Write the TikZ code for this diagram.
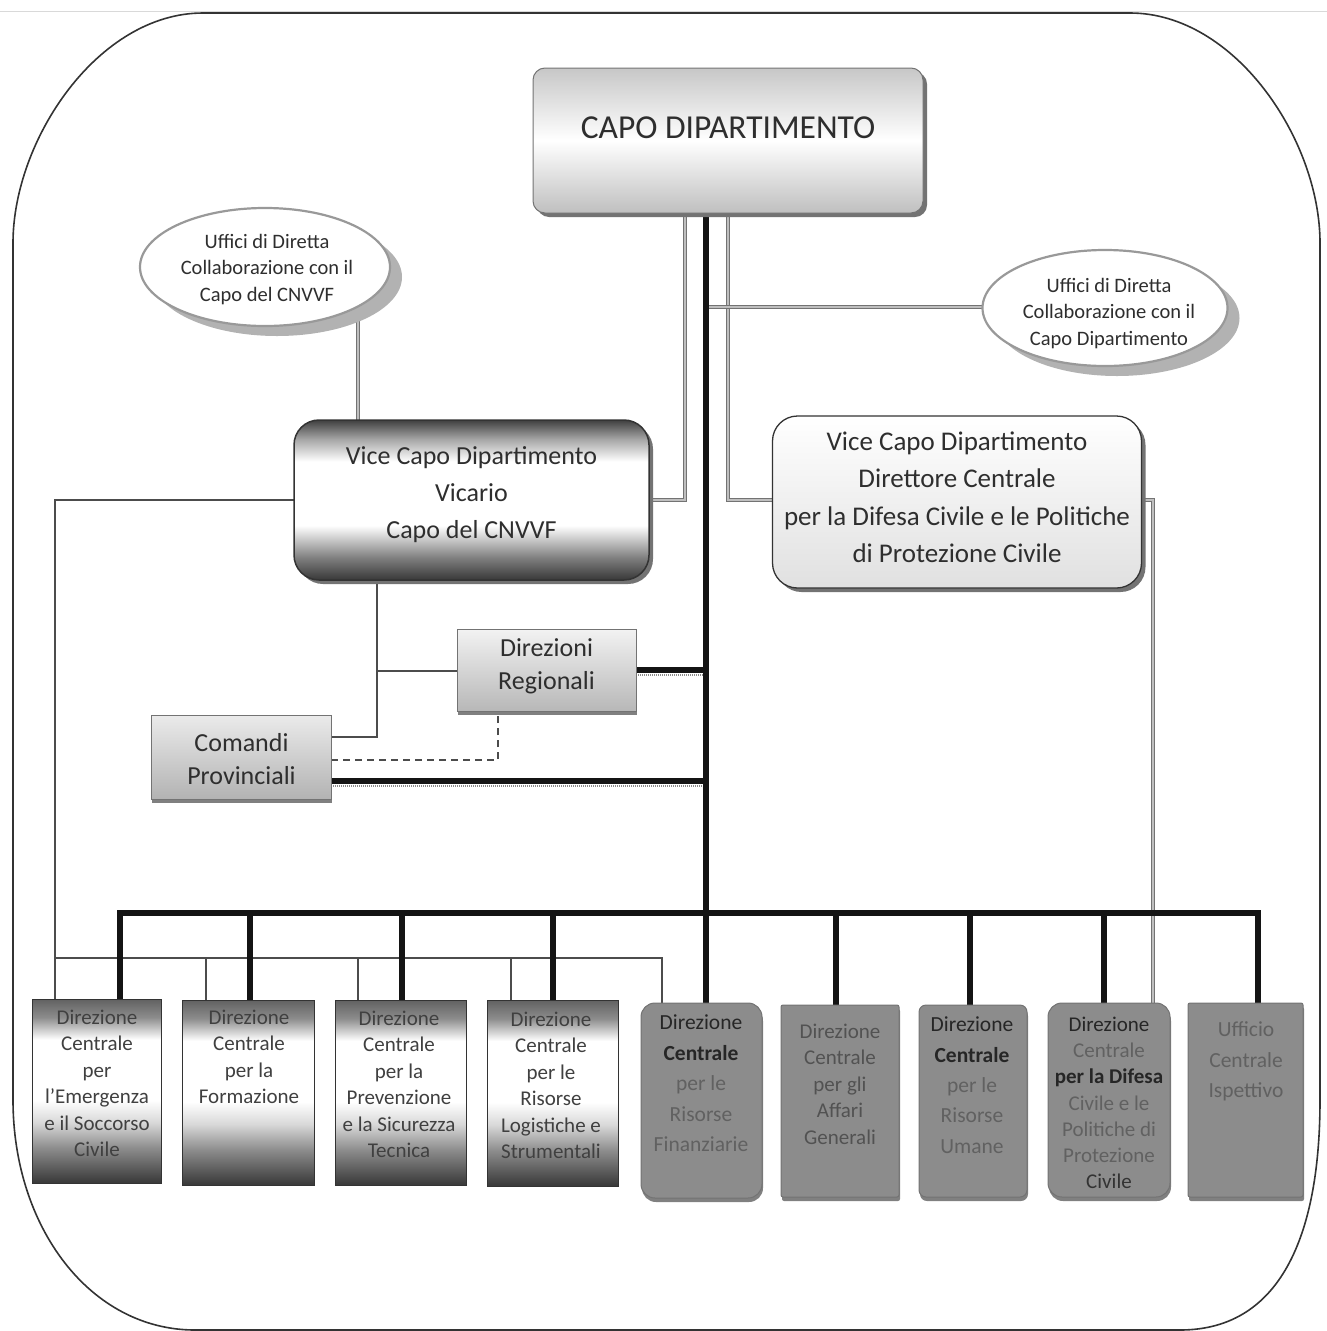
\documentclass[tikz,border=0pt]{standalone}
\usepackage{fontspec}
\setmainfont{Carlito}
\usetikzlibrary{shapes.geometric,shadows,backgrounds,calc}
\newcommand\myfs[2]{\fontsize{#1}{#2}\selectfont}
\pgfdeclareverticalshading{vicshade}{100bp}{color(0bp)=(black!78); color(25bp)=(black!78); color(32bp)=(black!50); color(42bp)=(white); color(62bp)=(white); color(69bp)=(black!35); color(75bp)=(black!75); color(100bp)=(black!75)}
\pgfdeclareverticalshading{dcshade}{100bp}{color(0bp)=(black!78); color(25bp)=(black!78); color(34.5bp)=(black!45); color(41.5bp)=(black!15); color(47.5bp)=(white); color(64bp)=(white); color(70bp)=(black!45); color(75bp)=(black!62); color(100bp)=(black!62)}
\tikzset{
  frame/.style={draw=black!80, line width=1.6pt},
  conn/.style={draw=black!70, line width=1.2pt},
  gconn/.style={draw=black!55, line width=0.9pt, double=black!25, double distance=1.4pt},
  thk/.style={draw=black!92, line width=5.5pt},
  dotsh/.style={draw=black!45, line width=2.5pt, dash pattern=on 1pt off 1pt},
  dsh/.style={draw=black!70, line width=1.2pt, dash pattern=on 7pt off 5pt},
  shd/.style={drop shadow={shadow xshift=4pt, shadow yshift=-4pt, fill=black!55, opacity=1}},
  bshd/.style={drop shadow={shadow xshift=1pt, shadow yshift=-4pt, fill=black!50, opacity=1}},
  ell/.style={ellipse, draw=black!40, line width=2.2pt, fill=white, drop shadow={shadow xshift=12pt, shadow yshift=-10pt, fill=black!30, opacity=1}},
  txt/.style={align=center, text=black!82},
  darkbox/.style={rectangle, draw=black!80, line width=1pt, shading=dcshade},
  graybox/.style={rectangle, draw=black!55, line width=1pt, fill=black!45, bshd},
}
\begin{document}
\begin{tikzpicture}[x=1pt,y=-1pt, every node/.style={inner sep=0pt, outer sep=0pt}]
\useasboundingbox (0,0) rectangle (1327,1331);

% ---------- boxes ----------
\node[rectangle, rounded corners=12pt, minimum width=390pt, minimum height=145pt,
      draw=black!55, line width=1pt, top color=black!22, bottom color=black!25, middle color=white, shd] (capo) at (728,140.5) {};
\node[txt, font=\myfs{33.5}{40}] (capoT) at (728,128) {CAPO DIPARTIMENTO};

\node[ell, minimum width=250pt, minimum height=118pt] (uffL) at (265,267) {};
\node[txt, anchor=north, font=\myfs{20.5}{26.5}] (uffLT) at (267,234) {Uffici di Diretta\\Collaborazione con il\\Capo del CNVVF};

\node[ell, minimum width=245pt, minimum height=116pt] (uffR) at (1105,308) {};
\node[txt, anchor=north, font=\myfs{20.5}{26.5}] (uffRT) at (1109,278) {Uffici di Diretta\\Collaborazione con il\\Capo Dipartimento};

\node[rectangle, rounded corners=25pt, minimum width=355pt, minimum height=160pt,
      draw=black!80, line width=1.5pt, shading=vicshade, shd] (vic) at (471.5,500) {};
\node[txt, anchor=north, font=\myfs{26}{37}] (vicT) at (471.5,446.5) {Vice Capo Dipartimento\\Vicario\\Capo del CNVVF};

\node[rectangle, rounded corners=25pt, minimum width=369pt, minimum height=172pt,
      draw=black!80, line width=1.3pt, top color=white, bottom color=black!12, shd] (vdc) at (957,502) {};
\node[txt, anchor=north, font=\myfs{27}{37.3}] (vdcT) at (957,432) {Vice Capo Dipartimento\\Direttore Centrale\\per la Difesa Civile e le Politiche\\di Protezione Civile};

\node[rectangle, minimum width=179pt, minimum height=82pt, draw=black!55, line width=1pt,
      top color=black!5, bottom color=black!28, bshd] (dirreg) at (546.5,670) {};
\node[txt, anchor=north, font=\myfs{26}{33}] (dirregT) at (546.5,638.5) {Direzioni\\Regionali};

\node[rectangle, minimum width=180pt, minimum height=84pt, draw=black!55, line width=1pt,
      top color=black!8, bottom color=black!30, bshd] (comprov) at (241,757) {};
\node[txt, anchor=north, font=\myfs{26}{33}] (comprovT) at (241.5,733.5) {Comandi\\Provinciali};

% bottom row
\node[darkbox, minimum width=129pt, minimum height=184pt] (b1) at (96.5,1091) {};
\node[darkbox, minimum width=132pt, minimum height=185pt] (b2) at (248,1092.5) {};
\node[darkbox, minimum width=131pt, minimum height=185pt] (b3) at (400.5,1092.5) {};
\node[darkbox, minimum width=131pt, minimum height=186pt] (b4) at (552.5,1093) {};
\node[graybox, rounded corners=14pt, minimum width=121pt, minimum height=195pt] (b5) at (701.5,1100.5) {};
\node[graybox, rounded corners=2pt, minimum width=118pt, minimum height=192pt] (b6) at (840,1101) {};
\node[graybox, rounded corners=7pt, minimum width=108pt, minimum height=192pt] (b7) at (973,1101) {};
\node[graybox, rounded corners=14pt, minimum width=122pt, minimum height=194pt] (b8) at (1109,1100) {};
\node[graybox, rounded corners=2pt, minimum width=115pt, minimum height=194pt] (b9) at (1245.5,1100) {};

\node[txt, anchor=north, text=black!75, font=\myfs{21}{26.4}] (t1) at (97,1010) {Direzione\\Centrale\\per\\l’Emergenza\\e il Soccorso\\Civile};
\node[txt, anchor=north, text=black!75, font=\myfs{21}{26.4}] (t2) at (249,1010) {Direzione\\Centrale\\per la\\Formazione};
\node[txt, anchor=north, text=black!75, font=\myfs{21}{26.4}] (t3) at (399,1011) {Direzione\\Centrale\\per la\\Prevenzione\\e la Sicurezza\\Tecnica};
\node[txt, anchor=north, text=black!75, font=\myfs{21}{26.4}] (t4) at (551,1012) {Direzione\\Centrale\\per le\\Risorse\\Logistiche e\\Strumentali};
\node[txt, anchor=north, text=black!62, font=\myfs{21.5}{30.5}] (t5) at (701,1015) {\textcolor{black!85}{Direzione}\\\textcolor{black!85}{\textbf{Centrale}}\\per le\\Risorse\\Finanziarie};
\node[txt, anchor=north, text=black!68, font=\myfs{21}{26.4}] (t6) at (840,1024) {Direzione\\Centrale\\per gli\\Affari\\Generali};
\node[txt, anchor=north, text=black!62, font=\myfs{21.5}{30.3}] (t7) at (972,1017) {\textcolor{black!85}{Direzione}\\\textcolor{black!85}{\textbf{Centrale}}\\per le\\Risorse\\Umane};
\node[txt, anchor=north, text=black!62, font=\myfs{21}{26.2}] (t8) at (1109,1017) {\textcolor{black!85}{Direzione}\\Centrale\\\textcolor{black!85}{\textbf{per la Difesa}}\\Civile e le\\Politiche di\\Protezione\\\textcolor{black!80}{Civile}};
\node[txt, anchor=north, text=black!62, font=\myfs{21.5}{30.5}] (t9) at (1246,1022) {Ufficio\\Centrale\\Ispettivo};

% ---------- connectors ----------
\begin{pgfonlayer}{background}
\draw[draw=black!15, line width=0.8pt] (0,11) -- (1327,11);
\draw[frame] (203,13) -- (1130,13) .. controls (1235,13) and (1320,140) .. (1320,243)
  -- (1320,1100) .. controls (1320,1227) and (1285,1330) .. (1180,1330)
  -- (195,1330) .. controls (90,1330) and (13,1227) .. (13,1100)
  -- (13,243) .. controls (13,140) and (98,13) .. (203,13) -- cycle;

\coordinate (trk) at (706,913);
\coordinate (k1) at (120,913);
\coordinate (k2) at (250,913);
\coordinate (k3) at (402,913);
\coordinate (k4) at (553,913);
\coordinate (k6) at (836,913);
\coordinate (k7) at (970,913);
\coordinate (k8) at (1104,913);
\coordinate (k9) at (1258,913);

% gray double connectors
\coordinate (gL) at (685,500);
\coordinate (gR) at (728,500);
\coordinate (gR2) at (1153,500);
\coordinate (uR) at (706,307);
\coordinate (uL) at (358,267);
\draw[gconn] (capo.south -| gL) -- (gL) -- (vic.east);
\draw[gconn] (capo.south -| gR) -- (gR) -- (vdc.west |- gR);
\draw[gconn] (vdc.east |- gR2) -- (gR2) -- (gR2 |- b8.north);
\draw[gconn] (uR) -- (uffR.west |- uR);
\draw[gconn] (uL) -- (uL |- vic.north);

% thin connectors
\coordinate (lA) at (55,500);
\coordinate (lB) at (55,958);
\coordinate (m2) at (206,958);
\coordinate (m3) at (358,958);
\coordinate (m4) at (511,958);
\coordinate (m5) at (662,958);
\draw[conn] (vic.west) -- (lA) -- (lA |- b1.north);
\draw[conn] (lB) -- (m5) -- (m5 |- b5.north);
\draw[conn] (m2) -- (m2 |- b2.north);
\draw[conn] (m3) -- (m3 |- b3.north);
\draw[conn] (m4) -- (m4 |- b4.north);

\coordinate (vA) at (377,671);
\coordinate (cT) at (331,737);
\draw[conn] (vic.south -| vA) -- (vA |- cT) -- (cT);
\draw[conn] (vA) -- (dirreg.west |- vA);

\coordinate (dsA) at (498,760);
\draw[dsh] (comprov.east |- dsA) -- (dsA) -- (dsA |- dirreg.south);

% thick connectors
\coordinate (cpt) at (331,781);
\draw[dotsh] ([yshift=-5pt]dirreg.east) -- ([yshift=-5pt]dirreg.east -| trk);
\draw[dotsh] ([yshift=-5pt]cpt) -- ([yshift=-5pt]cpt -| trk);
\draw[thk] (dirreg.east) -- (dirreg.east -| trk);
\draw[thk] (cpt) -- (cpt -| trk);
\draw[thk] (capo.south -| trk) -- (b5.north -| trk);
\draw[thk, line join=miter] (k1 |- b1.north) -- (k1) -- (k9) -- (k9 |- b9.north);
\draw[thk] (k2) -- (k2 |- b2.north);
\draw[thk] (k3) -- (k3 |- b3.north);
\draw[thk] (k4) -- (k4 |- b4.north);
\draw[thk] (k6) -- (k6 |- b6.north);
\draw[thk] (k7) -- (k7 |- b7.north);
\draw[thk] (k8) -- (k8 |- b8.north);
\end{pgfonlayer}
\end{tikzpicture}
\end{document}
